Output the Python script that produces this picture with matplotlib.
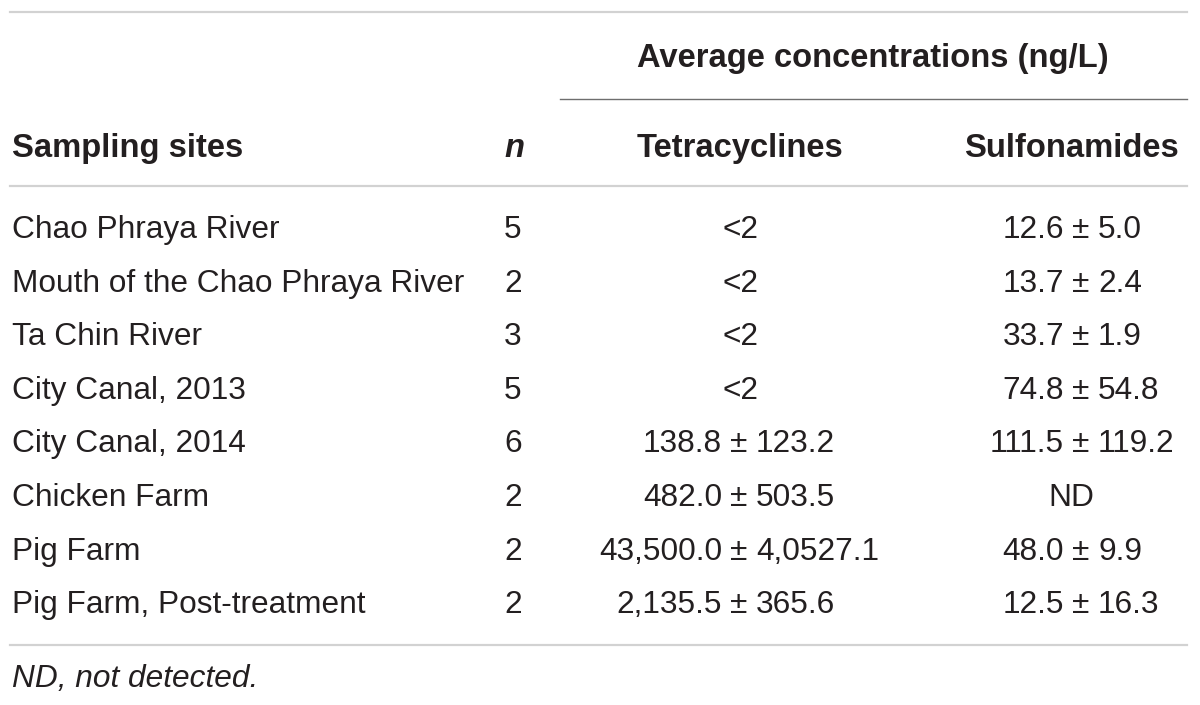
import matplotlib.pyplot as plt

# table contents
sites = ['Chao Phraya River', 'Mouth of the Chao Phraya River', 'Ta Chin River',
         'City Canal, 2013', 'City Canal, 2014', 'Chicken Farm', 'Pig Farm',
         'Pig Farm, Post-treatment']
n_vals = ['5', '2', '3', '5', '6', '2', '2', '2']
tetra = ['<2', '<2', '<2', '<2', '138.8 ± 123.2', '482.0 ± 503.5',
         '43,500.0 ± 4,0527.1', '2,135.5 ± 365.6']
sulfa = ['12.6 ± 5.0', '13.7 ± 2.4', '33.7 ± 1.9', '74.8 ± 54.8',
         '111.5 ± 119.2', 'ND', '48.0 ± 9.9', '12.5 ± 16.3']
group_header = 'Average concentrations (ng/L)'
col_headers = ['Sampling sites', 'n', 'Tetracyclines', 'Sulfonamides']
footnote = 'ND, not detected.'

plt.rcParams['font.family'] = ['Liberation Sans', 'DejaVu Sans']
txt = '#231f20'
fs = 22.8
fs_b = 23.6

fig = plt.figure(figsize=(12, 7.05), dpi=100)
ax = fig.add_axes([0, 0, 1, 1])
ax.set_xlim(0, 1200)
ax.set_ylim(705, 0)
ax.axis('off')

# rules
light = '#d2d2d2'
ax.plot([10, 1187], [12, 12], color=light, lw=1.6)
ax.plot([560, 1187], [99, 99], color='#6e6e6e', lw=1.0)
ax.plot([10, 1187], [186, 186], color=light, lw=1.6)
ax.plot([10, 1187], [645, 645], color=light, lw=1.6)

# headers
ax.text(873, 67, group_header, ha='center', va='baseline', fontsize=fs_b,
        fontweight='bold', color=txt)
ax.text(12, 157, col_headers[0], ha='left', va='baseline', fontsize=fs_b,
        fontweight='bold', color=txt)
ax.text(504, 157, col_headers[1], ha='left', va='baseline', fontsize=fs_b,
        fontweight='bold', style='italic', color=txt)
ax.text(740, 157, col_headers[2], ha='center', va='baseline', fontsize=fs_b,
        fontweight='bold', color=txt)
ax.text(1071, 157, col_headers[3], ha='center', va='baseline', fontsize=fs_b,
        fontweight='bold', color=txt)


def put_value(x_center, x_pm, y, s):
    # values with ± are lined up on the ± sign
    if '±' in s:
        left, right = [p.strip() for p in s.split('±')]
        ax.text(x_pm - 17, y, left, ha='right', va='baseline', fontsize=fs, color=txt)
        ax.text(x_pm, y, '±', ha='center', va='baseline', fontsize=fs, color=txt)
        ax.text(x_pm + 17, y, right, ha='left', va='baseline', fontsize=fs, color=txt)
    else:
        ax.text(x_center, y, s, ha='center', va='baseline', fontsize=fs, color=txt)


for i in range(len(sites)):
    y = 238 + 53.6 * i
    ax.text(12, y, sites[i], ha='left', va='baseline', fontsize=fs, color=txt)
    ax.text(504, y, n_vals[i], ha='left', va='baseline', fontsize=fs, color=txt)
    put_value(741, 739, y, tetra[i])
    put_value(1071, 1081, y, sulfa[i])

ax.text(12, 687, footnote, ha='left', va='baseline', fontsize=fs,
        style='italic', color=txt)

fig.savefig('out.png', dpi=100)
